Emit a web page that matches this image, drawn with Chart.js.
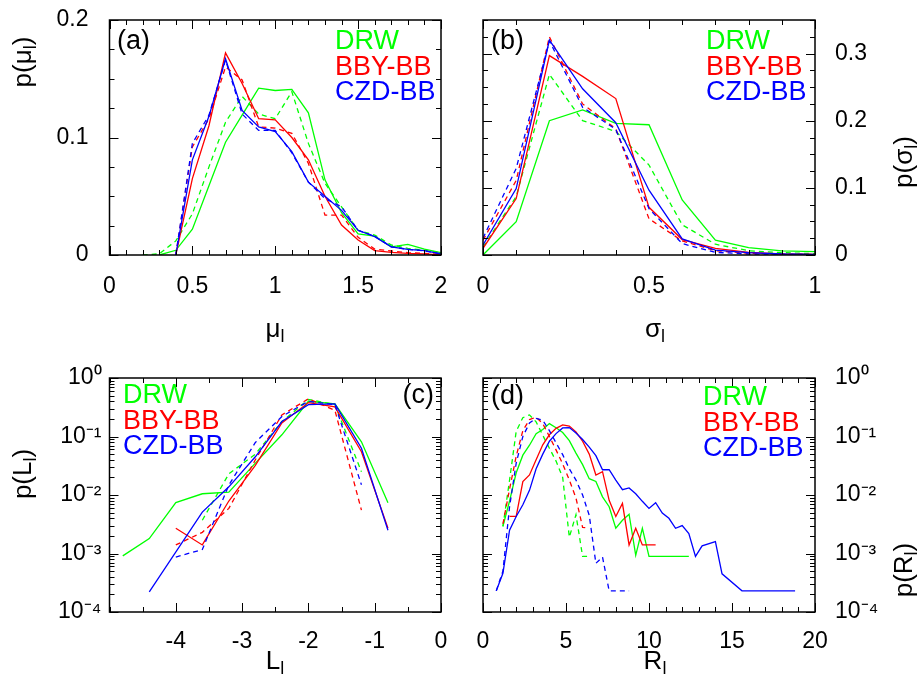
<!DOCTYPE html>
<html>
<head>
<meta charset="utf-8">
<script src="https://cdn.jsdelivr.net/npm/chart.js@4.4.0/dist/chart.umd.min.js"></script>
<style>
  body { margin: 0; background: #fff; }
  #lienzo { position: relative; width: 919px; height: 676px; overflow: hidden; }
  #lienzo canvas { position: absolute; left: 0; top: 0; }
</style>
</head>
<body>
<div id="lienzo">
  <canvas id="pa" width="919" height="676"></canvas>
  <canvas id="pb" width="919" height="676"></canvas>
  <canvas id="pc" width="919" height="676"></canvas>
  <canvas id="pd" width="919" height="676"></canvas>
</div>
<script>
// ---- datos ----
const nombres = ['DRW', 'BBY-BB', 'CZD-BB'];

// (a) p(mu_l)
const aX = [0.2,0.3,0.4,0.5,0.6,0.7,0.8,0.9,1.0,1.1,1.2,1.3,1.4,1.5,1.6,1.7,1.8,1.9,2.0];
const aDrw     = [null,0,0.004,0.022,0.059,0.096,0.119,0.142,0.140,0.141,0.121,0.064,0.036,0.018,0.016,0.007,0.009,0.005,0.002];
const aDrwDash = [0,0.001,0.012,0.035,0.075,0.113,0.135,0.120,0.116,0.139,0.095,0.061,0.041,0.021,0.017,0.0085,0.0057,0.004,0.002];
const aBby     = [null,null,0,0.065,0.110,0.172,0.146,0.116,0.115,0.100,0.081,0.050,0.0255,0.0128,0.0037,0.0023,0.0014,0.001,0];
const aBbyDash = [null,null,0,0.092,0.116,0.160,0.149,0.109,0.108,0.1035,0.078,0.034,0.034,0.015,0.005,0.0034,0.002,0.0014,0.0006];
const aCzd     = [null,null,0,0.081,0.118,0.167,0.123,0.109,0.105,0.088,0.062,0.050,0.038,0.021,0.0156,0.007,0.0048,0.0037,0.001];
const aCzdDash = [null,null,0,0.095,0.119,0.166,0.120,0.106,0.106,0.087,0.062,0.048,0.041,0.021,0.016,0.007,0.0048,0.0035,0.001];

// (b) p(sigma_l)
const bX = [0,0.1,0.2,0.3,0.4,0.5,0.6,0.7,0.8,0.9,1.0];
const bDrw     = [0,0.0495,0.200,0.216,0.196,0.194,0.082,0.022,0.011,0.006,0.005];
const bDrwDash = [0.012,0.087,0.269,0.200,0.184,0.134,0.045,0.016,0.0064,0.0035,0.002];
const bBby     = [0.010,0.084,0.297,0.266,0.233,0.071,0.023,0.010,0.004,0.0015,0.001];
const bBbyDash = [0.022,0.111,0.325,0.225,0.188,0.054,0.021,0.0064,0.0025,0.0015,0.001];
const bCzd     = [0.015,0.099,0.320,0.2475,0.197,0.0965,0.024,0.0074,0.0035,0.0015,0.001];
const bCzdDash = [0.025,0.129,0.319,0.220,0.187,0.069,0.017,0.004,0.0015,0.001,0.0005];

// (c) p(L_l)
const cX = [-4.8,-4.4,-4.0,-3.6,-3.2,-2.8,-2.4,-2.0,-1.6,-1.2,-0.8];
const cDrw     = [0.00091,0.0018,0.0074,0.0105,0.0112,0.035,0.107,0.40,0.36,0.081,0.0074];
const cDrwDash = [null,null,null,0.0037,0.023,0.050,0.18,0.43,0.35,0.025];
const cBby     = [null,null,0.0027,0.0014,0.0079,0.032,0.17,0.38,0.32,0.055,0.0027];
const cBbyDash = [null,null,0.0014,0.0023,0.0059,0.040,0.234,0.44,0.28,0.0055];
const cCzd     = [null,0.00022,null,0.0051,0.0138,0.045,0.18,0.35,0.36,0.063,0.0025];
const cCzdDash = [null,null,0.00087,0.00117,0.0148,0.079,0.22,0.40,0.35,0.015];

// (d) p(R_l)
const dX = [0.8,1.2,1.6,2.0,2.4,2.8,3.2,3.6,4.0,4.4,4.8,5.2,5.6,6.0,6.4,6.8,7.2,7.6,8.0,8.4,8.8,9.2,9.6,10.0,10.4,
            10.8,11.2,11.6,12.0,12.4,12.8,13.2,13.6,14.0,14.4,14.8,15.2,15.6,16.0,16.4,16.8,17.2,17.6,18.0,18.4,18.8];
const dDrw     = [null,0.0029,0.0079,0.024,0.048,0.071,0.112,0.132,0.166,0.141,0.117,0.085,0.052,0.033,0.019,0.017,
                  0.0093,0.0063,0.0027,0.0037,0.0047,0.00093,0.0027,0.00089,null,null,null,null,null,0.00089];
const dDrwDash = [null,0.0029,0.018,0.123,0.21,0.234,0.178,0.105,0.063,0.038,0.020,0.0019,0.0046,0.00089,0.00089];
const dBby     = [null,null,0.0043,0.0043,0.017,0.022,0.040,0.072,0.107,0.138,0.158,0.151,0.120,0.083,0.050,0.022,
                  0.025,0.0081,0.0043,0.0072,0.0014,0.0027,0.0014,null,0.0014];
const dBbyDash = [null,0.0032,0.0126,0.046,0.126,0.195,0.214,0.166,0.100,0.059,0.034,0.018,0.0089,0.0028,0.0027];
const dCzd     = [0.00023,0.00046,0.0025,0.0043,0.0068,0.012,0.028,0.050,0.083,0.112,0.140,0.142,0.115,0.089,0.066,0.047,
                  0.027,0.027,0.018,0.0123,0.0132,0.0105,0.0078,0.0059,0.0074,0.0049,0.0040,0.0027,0.0030,0.0022,
                  0.00089,0.00135,null,0.0016,0.00045,null,null,0.00023,null,null,null,null,null,null,null,0.00023];
const dCzdDash = [0.00023,0.0005,0.0063,0.035,0.100,0.170,0.204,0.190,0.126,0.078,0.049,0.028,0.018,0.010,0.0045,
                  0.00068,0.00087,0.00023,null,null,0.00023];

// marcas de los ejes
const aTicksX = [0, 0.5, 1, 1.5, 2];
const aTicksY = [0, 0.1, 0.2];
const bTicksX = [0, 0.5, 1];
const bTicksY = [0, 0.1, 0.2, 0.3];
const cTicksX = [-4, -3, -2, -1, 0];
const dTicksX = [0, 5, 10, 15, 20];
const logTicks = [1e-4, 1e-3, 1e-2, 1e-1, 1];

// ---- estilo ----
const VERDE = '#00ff00', ROJO = '#ff0000', AZUL = '#0000ff';
const fuenteEje = '"Liberation Sans Narrow", "Arial Narrow", "Liberation Sans", Arial, sans-serif';
const fuenteLeyenda = '"Liberation Sans", Arial, sans-serif';

const sup = {'-': '⁻', '0': '⁰', '1': '¹', '2': '²', '3': '³', '4': '⁴', '5': '⁵'};
const potencia = v => '10' + String(Math.round(Math.log10(v))).split('').map(c => sup[c]).join('');

function pasos(desde, hasta, paso) {
    const r = [];
    for (let i = 0; desde + i * paso <= hasta + 1e-9; i++) r.push(+(desde + i * paso).toFixed(4));
    return r;
}
function menoresLog() {
    const r = [];
    for (let e = -4; e < 0; e++) for (let m = 2; m <= 9; m++) r.push(m * Math.pow(10, e));
    return r;
}

function serie(xs, ys, color, rayado) {
    return {
        data: ys.map((y, i) => ({ x: xs[i], y: y })),
        borderColor: color,
        borderWidth: 1.3,
        borderDash: rayado ? [5, 4] : [],
        pointRadius: 0,
        fill: false,
        tension: 0,
        spanGaps: true
    };
}

// texto con subindice (p. ej. p(mu_l)), opcionalmente girado
function textoSub(ctx, partes, x, y, girar) {
    ctx.save();
    ctx.translate(x, y);
    if (girar) ctx.rotate(-Math.PI / 2);
    let total = 0;
    partes.forEach(p => {
        ctx.font = (p[1] ? 18 : 26) + 'px ' + fuenteEje;
        p.w = ctx.measureText(p[0]).width;
        total += p.w;
    });
    let cx = -total / 2;
    ctx.textBaseline = 'middle';
    ctx.textAlign = 'left';
    ctx.fillStyle = '#000';
    partes.forEach(p => {
        ctx.font = (p[1] ? 18 : 26) + 'px ' + fuenteEje;
        ctx.fillText(p[0], cx, p[1] ? 7 : 0);
        cx += p.w;
    });
    ctx.restore();
}

// marco tipo gnuplot: caja, marcas hacia dentro, leyenda de texto y rotulos
const marcoGnuplot = {
    id: 'marco',
    afterDraw(chart, args, o) {
        const ctx = chart.ctx;
        const a = chart.chartArea;
        const sx = chart.scales.x, sy = chart.scales.y;
        ctx.save();
        ctx.strokeStyle = '#000';
        ctx.lineWidth = 1;
        ctx.beginPath();
        const marcaX = (v, len) => {
            const p = Math.round(sx.getPixelForValue(v)) + 0.5;
            ctx.moveTo(p, a.bottom); ctx.lineTo(p, a.bottom - len);
            ctx.moveTo(p, a.top); ctx.lineTo(p, a.top + len);
        };
        const marcaY = (v, len) => {
            const p = Math.round(sy.getPixelForValue(v)) + 0.5;
            ctx.moveTo(a.left, p); ctx.lineTo(a.left + len, p);
            ctx.moveTo(a.right, p); ctx.lineTo(a.right - len, p);
        };
        o.menoresX.forEach(v => marcaX(v, 5));
        o.mayoresX.forEach(v => marcaX(v, 9));
        o.menoresY.forEach(v => marcaY(v, 5));
        o.mayoresY.forEach(v => marcaY(v, 9));
        ctx.stroke();
        ctx.lineWidth = 1.5;
        ctx.strokeRect(a.left, a.top, a.right - a.left, a.bottom - a.top);

        // leyenda
        ctx.font = '27px ' + fuenteLeyenda;
        ctx.textBaseline = 'middle';
        ctx.textAlign = 'left';
        [VERDE, ROJO, AZUL].forEach((c, i) => {
            ctx.fillStyle = c;
            ctx.fillText(nombres[i], o.leyenda[0], o.leyenda[1] + i * 25.5);
        });
        // etiqueta del panel
        ctx.fillStyle = '#000';
        ctx.textAlign = o.etiqueta[3];
        ctx.fillText(o.etiqueta[0], o.etiqueta[1], o.etiqueta[2]);

        textoSub(ctx, o.tituloX[0], o.tituloX[1], o.tituloX[2], false);
        textoSub(ctx, o.tituloY[0], o.tituloY[1], o.tituloY[2], true);
        ctx.restore();
    }
};

// el area de dibujo no debe moverse por el tamaño de las etiquetas
function sinRelleno(s) {
    s.paddingTop = 0; s.paddingBottom = 0; s.paddingLeft = 0; s.paddingRight = 0;
}

function crearPanel(id, p) {
    const ejeFuente = { family: fuenteEje, size: 23 };
    const anchoY = 100, altoX = 60;
    const relleno = {
        left: p.yDerecha ? p.area[0] : p.area[0] - anchoY,
        right: p.yDerecha ? 919 - p.area[2] - anchoY : 919 - p.area[2],
        top: p.area[1],
        bottom: 676 - p.area[3] - altoX
    };
    const chart = new Chart(document.getElementById(id), {
        type: 'line',
        data: {
            datasets: [
                serie(p.xs, p.ys[4], AZUL, false),
                serie(p.xs, p.ys[5], AZUL, true),
                serie(p.xs, p.ys[2], ROJO, false),
                serie(p.xs, p.ys[3], ROJO, true),
                serie(p.xs, p.ys[0], VERDE, false),
                serie(p.xs, p.ys[1], VERDE, true)
            ]
        },
        plugins: [marcoGnuplot],
        options: {
            responsive: false,
            animation: false,
            events: [],
            layout: { padding: relleno },
            plugins: {
                legend: { display: false },
                tooltip: { enabled: false },
                marco: p.marco
            },
            scales: {
                x: {
                    type: 'linear',
                    min: p.xMin, max: p.xMax,
                    afterBuildTicks: s => { s.ticks = p.ticksX.map(v => ({ value: v })); },
                    afterFit: s => { s.height = altoX; sinRelleno(s); },
                    grid: { display: false, drawTicks: false },
                    border: { display: false },
                    ticks: {
                        color: '#000', font: ejeFuente, padding: 17,
                        maxRotation: 0, autoSkip: false,
                        callback: v => String(v)
                    }
                },
                y: {
                    type: p.log ? 'logarithmic' : 'linear',
                    position: p.yDerecha ? 'right' : 'left',
                    min: p.yMin, max: p.yMax,
                    afterBuildTicks: s => { s.ticks = p.ticksY.map(v => ({ value: v })); },
                    afterFit: s => { s.width = anchoY; sinRelleno(s); },
                    grid: { display: false, drawTicks: false },
                    border: { display: false },
                    ticks: {
                        color: '#000', font: ejeFuente, padding: p.padY,
                        autoSkip: false,
                        callback: v => p.log ? potencia(v) : String(v)
                    }
                }
            }
        }
    });

    // ajustar el relleno hasta que el area de dibujo coincida con la figura
    for (let k = 0; k < 6; k++) {
        const ca = chart.chartArea;
        const dt = p.area[1] - ca.top, db = ca.bottom - p.area[3];
        const dl = p.area[0] - ca.left, dr = ca.right - p.area[2];
        if (Math.abs(dt) + Math.abs(db) + Math.abs(dl) + Math.abs(dr) < 0.3) break;
        relleno.top += dt; relleno.bottom += db; relleno.left += dl; relleno.right += dr;
        chart.update();
    }
    // colocar los numeros del eje x a la altura de la figura
    const marcasX = chart.config.options.scales.x.ticks;
    for (let k = 0; k < 3; k++) {
        const items = chart.scales.x._labelItems;
        if (!marcasX || !items || !items.length) break;
        const dif = (p.numerosY - 12) - items[0].options.translation[1];
        if (Math.abs(dif) < 0.5) break;
        marcasX.padding += dif;
        chart.update();
    }
}

crearPanel('pa', {
    xs: aX, ys: [aDrw, aDrwDash, aBby, aBbyDash, aCzd, aCzdDash],
    xMin: 0, xMax: 2, yMin: 0, yMax: 0.2, ticksX: aTicksX, ticksY: aTicksY,
    area: [109.5, 20, 441, 255], padY: 21, numerosY: 285,
    marco: {
        mayoresX: aTicksX, menoresX: pasos(0, 2, 0.1),
        mayoresY: aTicksY, menoresY: pasos(0, 0.2, 0.025),
        leyenda: [335, 42], etiqueta: ['(a)', 117, 42, 'left'],
        tituloX: [[['μ', 0], ['l', 1]], 275, 330],
        tituloY: [[['p(μ', 0], ['l', 1], [')', 0]], 24, 62]
    }
});

crearPanel('pb', {
    xs: bX, ys: [bDrw, bDrwDash, bBby, bBbyDash, bCzd, bCzdDash],
    xMin: 0, xMax: 1, yMin: 0, yMax: 0.35, ticksX: bTicksX, ticksY: bTicksY,
    area: [483, 20, 815, 255], padY: 20, yDerecha: true, numerosY: 285,
    marco: {
        mayoresX: bTicksX, menoresX: pasos(0, 1, 0.1),
        mayoresY: bTicksY, menoresY: pasos(0, 0.35, 0.025),
        leyenda: [706, 42], etiqueta: ['(b)', 491, 42, 'left'],
        tituloX: [[['σ', 0], ['l', 1]], 655, 330],
        tituloY: [[['p(σ', 0], ['l', 1], [')', 0]], 905, 162]
    }
});

crearPanel('pc', {
    xs: cX, ys: [cDrw, cDrwDash, cBby, cBbyDash, cCzd, cCzdDash],
    xMin: -5, xMax: 0, yMin: 1e-4, yMax: 1, log: true, ticksX: cTicksX, ticksY: logTicks,
    area: [109.5, 378, 441, 612], padY: 8, numerosY: 640,
    marco: {
        mayoresX: cTicksX, menoresX: pasos(-5, 0, 0.5),
        mayoresY: logTicks, menoresY: menoresLog(),
        leyenda: [123, 396], etiqueta: ['(c)', 434, 396, 'right'],
        tituloX: [[['L', 0], ['l', 1]], 275, 662],
        tituloY: [[['p(L', 0], ['l', 1], [')', 0]], 24, 474]
    }
});

crearPanel('pd', {
    xs: dX, ys: [dDrw, dDrwDash, dBby, dBbyDash, dCzd, dCzdDash],
    xMin: 0, xMax: 20, yMin: 1e-4, yMax: 1, log: true, ticksX: dTicksX, ticksY: logTicks,
    area: [483, 378, 815, 612], padY: 20, yDerecha: true, numerosY: 640,
    marco: {
        mayoresX: dTicksX, menoresX: pasos(0, 20, 1),
        mayoresY: logTicks, menoresY: menoresLog(),
        leyenda: [703, 398], etiqueta: ['(d)', 491, 397, 'left'],
        tituloX: [[['R', 0], ['l', 1]], 655, 662],
        tituloY: [[['p(R', 0], ['l', 1], [')', 0]], 905, 570]
    }
});
</script>
</body>
</html>
